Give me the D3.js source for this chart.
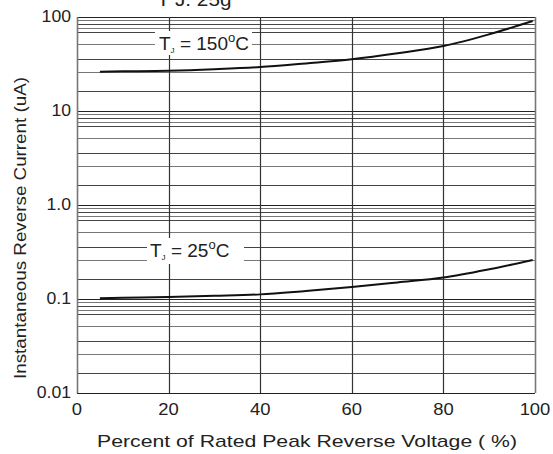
<!DOCTYPE html>
<html>
<head>
<meta charset="utf-8">
<script src="https://cdn.jsdelivr.net/npm/d3@7"></script>
<style>
  body { margin: 0; background: #fff; }
  svg text { font-family: "Liberation Sans", Arial, sans-serif; fill: #222; }
</style>
</head>
<body>
<svg id="chart" width="553" height="454"></svg>
<script>
// percent of rated peak reverse voltage
const voltagePct = [5, 10, 20, 30, 40, 50, 60, 70, 80, 90, 99.5];
// reverse current (uA)
const current150 = [26.2, 26.4, 26.8, 27.8, 29.3, 32.1, 35.5, 41.1, 49.1, 65.5, 90.6];
const current25 = [0.102, 0.103, 0.105, 0.108, 0.112, 0.122, 0.134, 0.150, 0.169, 0.207, 0.26];

const xTicks = [0, 20, 40, 60, 80, 100];
const yTicks = [0.01, 0.1, 1, 10, 100];
const yTickLabels = ['0.01', '0.1', '1.0', '10', '100'];
// minor grid lines per decade, as drawn in the source (not exact log spacing)
const minorSteps = [9.3, 8.4, 7.6, 6.9, 5.2, 3.6, 2.6, 1.65];

const svg = d3.select('#chart');
const plotL = 77, plotR = 535, plotT = 17, plotB = 393;

const x = d3.scaleLinear().domain([0, 100]).range([plotL, plotR]);
const y = d3.scaleLog().domain([0.01, 100]).range([plotB, plotT]);

// the source font is a bit wider than Liberation Sans
function stretch(sel, k) {
   sel.each(function() {
      let w = this.getComputedTextLength();
      d3.select(this).attr('textLength', w * k).attr('lengthAdjust', 'spacingAndGlyphs');
   });
}

// clipped title at the very top
svg.append('text')
   .attr('x', 157).attr('y', 6)
   .style('font-size', '18px')
   .text('T J. 25g')
   .call(stretch, 1.15);

// minor grid
let minorVals = [];
yTicks.slice(0, -1).forEach(function(d) {
   minorSteps.forEach(function(s) { minorVals.push(d * s); });
});
svg.append('g').selectAll('line')
   .data(minorVals)
   .enter().append('line')
      .attr('x1', plotL).attr('x2', plotR)
      .attr('y1', d => Math.round(y(d)) + 0.5)
      .attr('y2', d => Math.round(y(d)) + 0.5)
      .attr('stroke', function(d, i) { return i % 2 ? '#444' : '#777'; })
      .attr('stroke-width', 1);

// decade lines
svg.append('g').selectAll('line')
   .data(yTicks)
   .enter().append('line')
      .attr('x1', plotL).attr('x2', plotR)
      .attr('y1', d => Math.round(y(d)) + 0.5)
      .attr('y2', d => Math.round(y(d)) + 0.5)
      .attr('stroke', '#222')
      .attr('stroke-width', 1.2);

// vertical grid
svg.append('g').selectAll('line')
   .data(xTicks)
   .enter().append('line')
      .attr('x1', d => Math.round(x(d)) + 0.5)
      .attr('x2', d => Math.round(x(d)) + 0.5)
      .attr('y1', plotT).attr('y2', plotB)
      .attr('stroke', (d, i) => (i == 0 || i == xTicks.length - 1) ? '#777' : '#333')
      .attr('stroke-width', (d, i) => (i == 0 || i == xTicks.length - 1) ? 1.6 : 1.2);

// label boxes + labels
function tempLabel(bx, by, bw, bh, tx, ty, temp) {
   svg.append('rect')
      .attr('x', bx).attr('y', by).attr('width', bw).attr('height', bh)
      .attr('fill', '#fff');
   let t = svg.append('text')
      .attr('x', tx).attr('y', ty)
      .style('font-size', '19px');
   t.append('tspan').text('T');
   t.append('tspan').attr('dy', 3).style('font-size', '8px').text('J');
   t.append('tspan').attr('dy', -3).text(' = ' + temp);
   t.append('tspan').attr('dy', -8).style('font-size', '13px').text('o');
   t.append('tspan').attr('dy', 8).text('C');
}
tempLabel(155, 31, 97, 24, 159, 50, '150');
tempLabel(147, 238, 97, 26, 150, 257, '25');

// curves
const line = d3.line()
   .x(d => x(d[0]))
   .y(d => y(d[1]))
   .curve(d3.curveMonotoneX);

[current150, current25].forEach(function(series) {
   svg.append('path')
      .datum(voltagePct.map((v, i) => [v, series[i]]))
      .attr('d', line)
      .attr('fill', 'none')
      .attr('stroke', '#111')
      .attr('stroke-width', 2);
});

// tick labels
svg.append('g').selectAll('text')
   .data(xTicks)
   .enter().append('text')
      .attr('x', d => x(d))
      .attr('y', 415)
      .attr('text-anchor', 'middle')
      .style('font-size', '16px')
      .text(d => d)
      .call(stretch, 1.15);

svg.append('g').selectAll('text')
   .data(yTicks)
   .enter().append('text')
      .attr('x', 71)
      .attr('y', d => y(d) + 5)
      .attr('text-anchor', 'end')
      .style('font-size', '16px')
      .text((d, i) => yTickLabels[i])
      .call(stretch, 1.1);

// axis titles
svg.append('text')
   .attr('x', 307).attr('y', 447)
   .attr('text-anchor', 'middle')
   .style('font-size', '17px')
   .text('Percent of Rated Peak Reverse Voltage ( %)')
   .attr('textLength', 420)
   .attr('lengthAdjust', 'spacingAndGlyphs');

svg.append('text')
   .attr('transform', 'translate(26,228) rotate(-90)')
   .attr('text-anchor', 'middle')
   .style('font-size', '17px')
   .text('Instantaneous Reverse Current (uA)')
   .attr('textLength', 302)
   .attr('lengthAdjust', 'spacingAndGlyphs');
</script>
</body>
</html>
